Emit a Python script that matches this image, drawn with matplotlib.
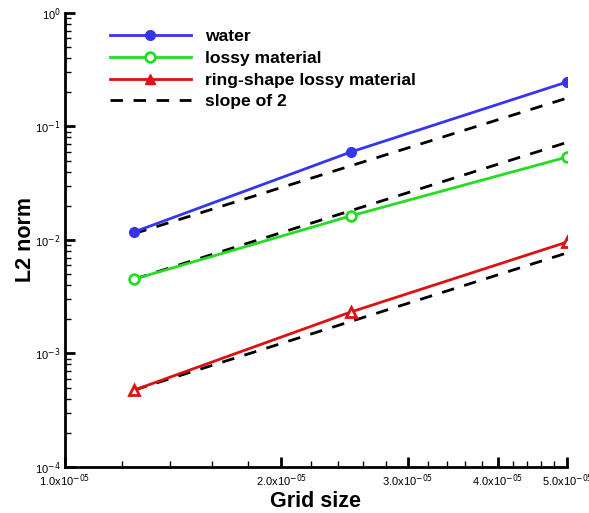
import numpy as np
import matplotlib
matplotlib.use("Agg")
import matplotlib.pyplot as plt
from matplotlib.lines import Line2D
from matplotlib.ticker import FixedLocator, FixedFormatter, NullFormatter, LogLocator

plt.rcParams['font.family'] = ['Liberation Sans', 'DejaVu Sans']
plt.rcParams['axes.unicode_minus'] = False

# data
grid = [1.25e-5, 2.5e-5, 5e-5]
water = [0.0118, 0.0596, 0.247]
lossy = [0.00453, 0.0163, 0.0539]
ring = [0.000477, 0.00232, 0.0096]

# slope-of-2 reference lines (start, end)
slope_x = [1.25e-5, 5e-5]
slope_water = [0.0114, 0.178]
slope_lossy = [0.00453, 0.0725]
slope_ring = [0.000477, 0.0077]

xticks = [1e-5, 2e-5, 3e-5, 4e-5, 5e-5]
xlabels = [r'1.0x10$^{-05}$', r'2.0x10$^{-05}$', r'3.0x10$^{-05}$', r'4.0x10$^{-05}$', r'5.0x10$^{-05}$']
yticks = [1e-4, 1e-3, 1e-2, 1e-1, 1e0]
ylabels = [r'10$^{-4}$', r'10$^{-3}$', r'10$^{-2}$', r'10$^{-1}$', r'10$^{0}$']

fig = plt.figure(figsize=(5.89, 5.13), dpi=100)
ax = fig.add_axes([0.110, 0.0897, 0.853, 0.885])

dash = (0, (4.5, 3.8))
for sv in [slope_water, slope_lossy, slope_ring]:
    ax.plot(slope_x, sv, color='k', lw=2, linestyle=dash, zorder=2)

ax.plot(grid, water, color='#3535ee', lw=2, marker='o', ms=7, zorder=3)
ax.plot(grid, lossy, color='#22dd22', lw=2, marker='o', ms=7, mfc='white', mew=2, zorder=3)
ax.plot(grid, ring, color='#dd1111', lw=2, marker='^', ms=7, mfc='white', mew=2, zorder=3)

ax.set_xscale('log')
ax.set_yscale('log')
ax.set_xlim(1e-5, 5e-5)
ax.set_ylim(1e-4, 1e0)

ax.xaxis.set_major_locator(FixedLocator(xticks))
ax.xaxis.set_major_formatter(FixedFormatter(xlabels))
ax.xaxis.set_minor_locator(FixedLocator([1.2e-5, 1.4e-5, 1.6e-5, 1.8e-5, 2.2e-5, 2.4e-5, 2.6e-5, 2.8e-5,
                                         3.2e-5, 3.4e-5, 3.6e-5, 3.8e-5, 4.2e-5, 4.4e-5, 4.6e-5, 4.8e-5]))
ax.xaxis.set_minor_formatter(NullFormatter())
ax.yaxis.set_major_locator(FixedLocator(yticks))
ax.yaxis.set_major_formatter(FixedFormatter(ylabels))
ax.yaxis.set_minor_locator(LogLocator(base=10, subs=np.arange(2, 10)))
ax.yaxis.set_minor_formatter(NullFormatter())

ax.tick_params(which='major', direction='in', length=7, width=2, labelsize=8)
ax.tick_params(which='minor', direction='in', length=4, width=1)
ax.tick_params(axis='x', pad=4)
ax.tick_params(axis='y', pad=3)

for s in ['top', 'right']:
    ax.spines[s].set_visible(False)
for s in ['left', 'bottom']:
    ax.spines[s].set_linewidth(2)

ax.set_xlabel('Grid size', fontsize=15.5, fontweight='bold', labelpad=1)
ax.set_ylabel('L2 norm', fontsize=15.5, fontweight='bold', labelpad=-1)

handles = [
    Line2D([], [], color='#3535ee', lw=2, marker='o', ms=7),
    Line2D([], [], color='#22dd22', lw=2, marker='o', ms=7, mfc='white', mew=2),
    Line2D([], [], color='#dd1111', lw=2, marker='^', ms=7),
    Line2D([], [], color='k', lw=2, linestyle=dash),
]
labels = ['water', 'lossy material', 'ring-shape lossy material', 'slope of 2']
ax.legend(handles, labels, loc='upper left', bbox_to_anchor=(110 / 589, 1 - 29 / 513),
          bbox_transform=fig.transFigure, frameon=False, borderpad=0, borderaxespad=0,
          prop={'size': 12.6, 'weight': 'bold'}, handlelength=4.6, handletextpad=0.85,
          labelspacing=0.37)

fig.savefig('out.png', dpi=100)
